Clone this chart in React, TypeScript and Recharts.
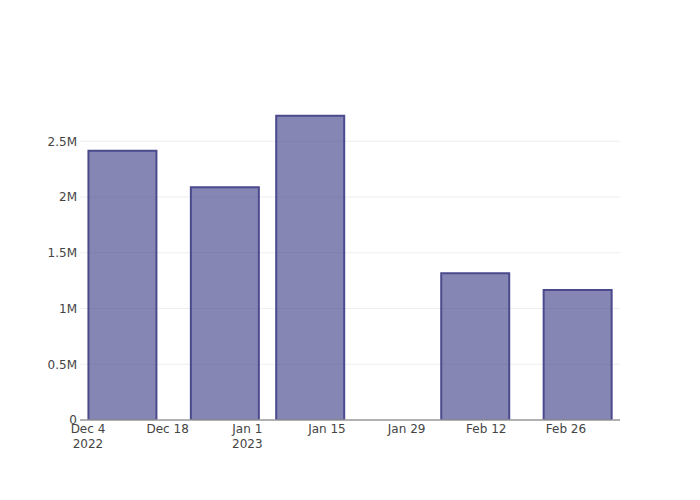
import { BarChart, Bar, XAxis, YAxis, CartesianGrid } from 'recharts';

const barDates = ['2022-12-10', '2022-12-28', '2023-01-12', '2023-02-10', '2023-02-28'];
const barValues = [2415000, 2087000, 2729000, 1317000, 1167000];

const tickDates = ['2022-12-04', '2022-12-18', '2023-01-01', '2023-01-15', '2023-01-29', '2023-02-12', '2023-02-26'];
const tickLabels = ['Dec 4', 'Dec 18', 'Jan 1', 'Jan 15', 'Jan 29', 'Feb 12', 'Feb 26'];
const tickYears = ['2022', '', '2023', '', '', '', ''];

const yTicks = [0, 500000, 1000000, 1500000, 2000000, 2500000];

const DAY = 86400000;
const toTime = (d: string) => Date.parse(d + 'T00:00:00Z');

const data = barDates.map((d, i) => ({ t: toTime(d), value: barValues[i] }));
const xTicks = tickDates.map(toTime);
const xDomain = [toTime('2022-12-04') - 1.4 * DAY, toTime('2022-12-04') + 93.5 * DAY];

const FONT = "'DejaVu Sans', Verdana, sans-serif";
const formatY = (v: number) => (v === 0 ? '0' : `${v / 1000000}M`);

function DateTick({ x, y, payload }: { x: number; y: number; payload: { value: number } }) {
  const i = xTicks.indexOf(payload.value);
  return (
    <text x={x} y={y} textAnchor="middle" fill="#444" fontSize={12} fontFamily={FONT}>
      <tspan x={x} dy={13}>{tickLabels[i]}</tspan>
      {tickYears[i] && <tspan x={x} dy={15}>{tickYears[i]}</tspan>}
    </text>
  );
}

export default function App() {
  return (
    <div style={{ position: 'absolute', left: 0, top: 0, width: 700, height: 500, background: '#fff' }}>
      <BarChart
        width={700}
        height={500}
        data={data}
        margin={{ top: 100, right: 80, bottom: 0, left: 0 }}
      >
        <CartesianGrid
          vertical={false}
          horizontalValues={yTicks.slice(1)}
          stroke="#eee"
          strokeWidth={1}
        />
        <XAxis
          dataKey="t"
          type="number"
          domain={xDomain}
          ticks={xTicks}
          interval={0}
          allowDataOverflow
          height={80}
          tickLine={false}
          tickSize={0}
          tickMargin={0}
          axisLine={{ stroke: '#999', strokeWidth: 1.5 }}
          tick={DateTick}
        />
        <YAxis
          type="number"
          domain={[0, 2870000]}
          ticks={yTicks}
          interval={0}
          allowDataOverflow
          width={80}
          axisLine={false}
          tickLine={false}
          tickSize={0}
          tickMargin={3}
          tickFormatter={formatY}
          tick={{ fill: '#444', fontSize: 12, fontFamily: FONT }}
        />
        <Bar
          dataKey="value"
          barSize={68}
          fill="rgb(60,60,135)"
          fillOpacity={0.62}
          stroke="#4b4a8d"
          strokeWidth={2}
          isAnimationActive={false}
        />
      </BarChart>
    </div>
  );
}
